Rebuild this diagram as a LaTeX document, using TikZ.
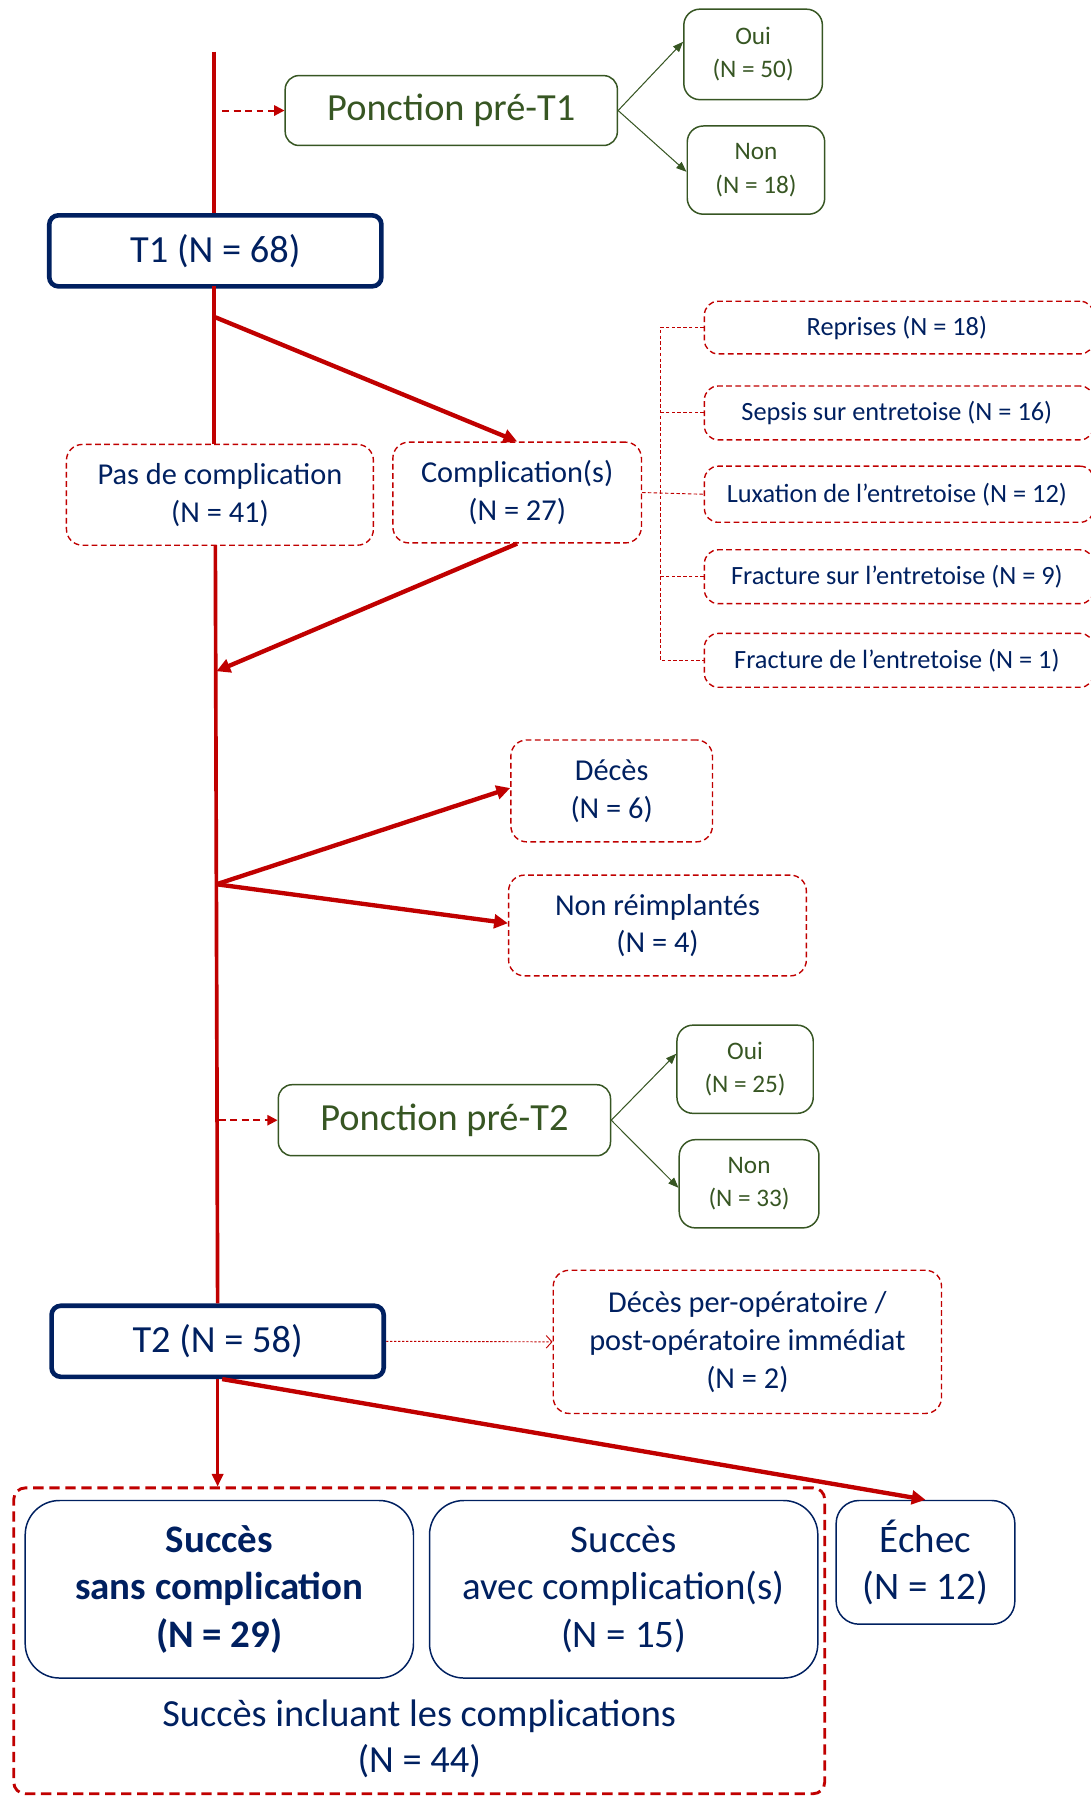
\documentclass[tikz,border=0pt]{standalone}
\usepackage{fontspec}
\setmainfont{Carlito}
\usetikzlibrary{arrows.meta}
\definecolor{navy}{HTML}{002060}
\definecolor{dgreen}{HTML}{375623}
\definecolor{dred}{HTML}{C00000}
\begin{document}
\begin{tikzpicture}[x=1pt,y=-1pt,
  greenbox/.style={draw=dgreen, line width=1.3pt, rounded corners=12pt, text=dgreen, align=center, inner sep=0pt},
  smallgreen/.style={greenbox, rounded corners=14pt, font=\fontsize{22}{29}\selectfont},
  bigtext/.style={font=\fontsize{33.5}{41}\selectfont},
  midtext/.style={font=\fontsize{26.5}{33}\selectfont},
  navybox/.style={draw=navy, line width=4pt, rounded corners=8pt, text=navy, align=center, inner sep=0pt, bigtext},
  dashbox/.style={draw=dred, line width=1.2pt, dash pattern=on 5pt off 3pt, rounded corners=14pt, text=navy, align=center, inner sep=0pt, midtext},
  listbox/.style={dashbox, rounded corners=12pt, font=\fontsize{23}{29}\selectfont},
  resbox/.style={draw=navy, line width=1.3pt, rounded corners=30pt, text=navy, align=center, inner sep=0pt, font=\fontsize{34}{41.5}\selectfont},
  trunk/.style={draw=dred, line width=3.2pt},
  redarrow/.style={draw=dred, line width=3.8pt, -{Triangle[length=12pt,width=12pt]}},
  greenarrow/.style={draw=dgreen, line width=0.9pt, -{Triangle[length=9pt,width=7pt]}},
  dasharrow/.style={draw=dred, line width=1.8pt, dash pattern=on 6pt off 4pt, -{Triangle[length=9pt,width=9pt]}},
  dotarrow/.style={draw=dred, line width=0.8pt, dash pattern=on 2pt off 1.5pt, -{Straight Barb[length=5pt,width=11pt]}},
  listline/.style={draw=dred, line width=0.8pt, dash pattern=on 3pt off 2pt}
]
\useasboundingbox (0,0) rectangle (952,1568);

% --- nodes ---
\node[greenbox, bigtext, minimum width=290pt, minimum height=61pt] (p1) at (394,96.5) {Ponction pré-T1};
\node[smallgreen, minimum width=121pt, minimum height=79pt] (oui1) at (657.5,47.5) {Oui\\(N = 50)};
\node[smallgreen, minimum width=120pt, minimum height=77pt] (non1) at (660,148.5) {Non\\(N = 18)};

\node[navybox, minimum width=290pt, minimum height=62pt] (t1) at (188,219) {T1 (N = 68)};

\node[dashbox, minimum width=268pt, minimum height=88pt] (pas) at (192,432) {Pas de complication\\(N = 41)};
\node[dashbox, minimum width=217pt, minimum height=88pt] (comp) at (451.5,430) {Complication(s)\\(N = 27)};

\node[listbox, minimum width=340pt, minimum height=46pt] (r1) at (785,286) {\hspace*{-4pt}Reprises (N = 18)};
\node[listbox, minimum width=340pt, minimum height=47pt] (r2) at (785,360.5) {\hspace*{-4pt}Sepsis sur entretoise (N = 16)};
\node[listbox, minimum width=340pt, minimum height=49pt] (r3) at (785,431.5) {\hspace*{-4pt}Luxation de l’entretoise (N = 12)};
\node[listbox, minimum width=340pt, minimum height=47pt] (r4) at (785,503.5) {\hspace*{-4pt}Fracture sur l’entretoise (N = 9)};
\node[listbox, minimum width=340pt, minimum height=47pt] (r5) at (785,576.5) {\hspace*{-4pt}Fracture de l’entretoise (N = 1)};

\node[dashbox, minimum width=176pt, minimum height=89pt] (deces) at (534,690.5) {Décès\\(N = 6)};
\node[dashbox, minimum width=260pt, minimum height=88pt] (nonr) at (574,808) {Non réimplantés\\(N = 4)};

\node[greenbox, bigtext, minimum width=290pt, minimum height=62pt] (p2) at (388,978) {Ponction pré-T2};
\node[smallgreen, minimum width=119pt, minimum height=77pt] (oui2) at (650.5,933.5) {Oui\\(N = 25)};
\node[smallgreen, minimum width=122pt, minimum height=77pt] (non2) at (654,1033.5) {Non\\(N = 33)};

\node[navybox, minimum width=290pt, minimum height=62pt] (t2) at (190,1171) {T2 (N = 58)};
\node[dashbox, minimum width=339pt, minimum height=125pt] (dpo) at (652.5,1171.5) {Décès per-opératoire /\\post-opératoire immédiat\\(N = 2)};

\node[draw=dred, line width=2.5pt, dash pattern=on 9pt off 5pt, rounded corners=10pt, minimum width=708pt, minimum height=267pt, inner sep=0pt] (outer) at (366,1432.5) {};
\node[resbox, minimum width=339pt, minimum height=155pt] (s1) at (191.5,1387.5) {\textbf{Succès}\\\textbf{sans complication}\\\textbf{(N = 29)}};
\node[resbox, minimum width=339pt, minimum height=155pt] (s2) at (544.5,1387.5) {Succès\\avec complication(s)\\(N = 15)};
\node[resbox, rounded corners=20pt, minimum width=156pt, minimum height=108pt] (echec) at (808,1364) {Échec\\(N = 12)};
\node[text=navy, align=center, font=\fontsize{33.5}{40}\selectfont] (lbl) at (366,1518) {Succès incluant les complications\\(N = 44)};

% --- coordinates on the trunk ---
\coordinate (top) at (187,45);
\coordinate (t1b) at (187,250);
\coordinate (pasT) at (187,388);
\coordinate (pasB) at (188,476);
\coordinate (c0) at (194,96.5);
\coordinate (b1) at (188,277);
\coordinate (m1) at (189,586);
\coordinate (b2) at (189,772);
\coordinate (c2) at (191,978);

% --- trunk ---
\draw[trunk] (top) -- (top |- t1.north);
\draw[trunk] (t1b) -- (pasT);
\draw[trunk] (pasB) -- (t2.north);
\draw[draw=dred, line width=2pt, -{Triangle[length=11pt,width=10pt]}] (t2.south) -- (t2.south |- outer.north);

% --- branches ---
\draw[dasharrow] (c0) -- (p1.west);
\draw[greenarrow] (p1.east) -- ([yshift=11pt]oui1.west);
\draw[greenarrow] (p1.east) -- ([yshift=-1.5pt]non1.west);

\draw[redarrow] (b1) -- (comp.north);
\draw[redarrow] (comp.south) -- (m1);

\draw[listline] (comp.east) -- (r3.west);
\draw[listline] (r1.west) -- ++(-38,0) -- ([xshift=-38pt]r5.west) -- (r5.west);
\draw[listline] (r2.west) -- ++(-38,0);
\draw[listline] (r4.west) -- ++(-38,0);

\draw[redarrow] (b2) -- ([yshift=2.5pt]deces.west);
\draw[redarrow] (b2) -- ([yshift=2pt]nonr.west);

\draw[dasharrow] (c2) -- (p2.west);
\draw[greenarrow] (p2.east) -- ([yshift=13.5pt]oui2.west);
\draw[greenarrow] (p2.east) -- ([yshift=-3.5pt]non2.west);

\draw[dotarrow] (t2.east) -- (dpo.west);
\draw[redarrow] ([xshift=4pt]t2.south) -- (echec.north);
\end{tikzpicture}
\end{document}
